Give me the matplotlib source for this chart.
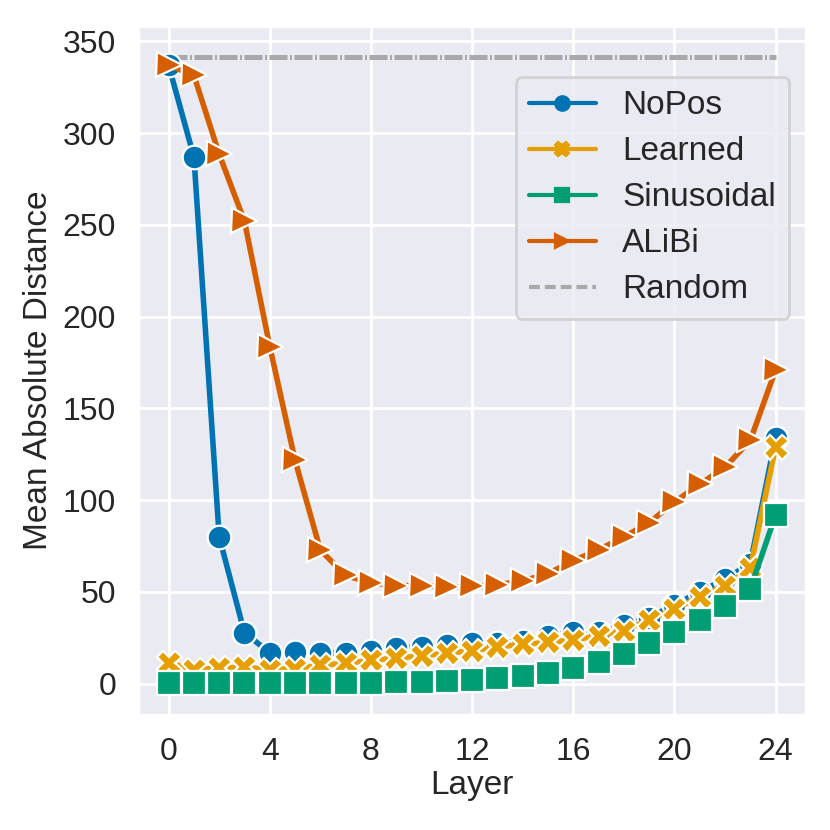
import matplotlib
matplotlib.use("Agg")
import matplotlib.pyplot as plt
import seaborn as sns
import numpy as np
from matplotlib.lines import Line2D

sns.set_theme(style="darkgrid", context="notebook")
plt.rcParams['font.family'] = ['Liberation Sans', 'DejaVu Sans']

layers = list(range(25))
nopos = [337, 287, 80, 27.7, 17, 17.5, 16.7, 16.7, 17.6, 19.4, 20.3, 21.2, 22, 22, 23.5, 26, 28.4, 28.4, 32, 36, 43, 50, 57, 65.5, 134]
learned = [11.4, 7.7, 8.6, 9.0, 7.7, 8.3, 10.0, 11.2, 12.7, 14, 15.2, 16.7, 18, 20, 21.5, 22.5, 24, 26, 29, 35, 40.6, 47.5, 53.5, 63, 129]
sinusoidal = [0.4, 0.4, 0.4, 0.4, 0.4, 0.4, 0.4, 0.5, 0.6, 0.8, 1.0, 1.3, 1.8, 3, 4.5, 6, 8.6, 11.6, 16.3, 22, 28, 35, 42.5, 51.6, 92]
alibi = [337, 331.5, 288.5, 252, 183.7, 121.7, 72.8, 59, 55, 53.5, 53.5, 52.7, 53, 54, 56, 60, 67, 73, 80, 87.7, 99, 108.7, 118, 132.6, 171]
random_val = 341.33

names = ["NoPos", "Learned", "Sinusoidal", "ALiBi"]
series = [nopos, learned, sinusoidal, alibi]
colors = ["#0173b2", "#e69f00", "#029e73", "#d55e00"]
markers = ["o", "X", "s", ">"]
msizes = [8.5, 9, 8.5, 9]

fig = plt.figure(figsize=(4.15, 4.15), dpi=200)
ax = fig.add_axes([0.1666, 0.1386, 0.971 - 0.1666, 0.9687 - 0.1386])

ax.plot(layers, [random_val] * len(layers), color="#a9a9a9", lw=1.8,
        linestyle=(0, (3.6, 0.5, 0.4, 0.5)), zorder=1)

for name, vals, c, m, ms in zip(names, series, colors, markers, msizes):
    ax.plot(layers, vals, color=c, marker=m, ms=ms, lw=2, mec="white", mew=0.8, zorder=2)

ax.set_xlim(-1.2, 25.2)
ax.set_ylim(-17, 358.4)
ax.set_xticks([0, 4, 8, 12, 16, 20, 24])
ax.set_yticks([0, 50, 100, 150, 200, 250, 300, 350])
ax.tick_params(labelsize=11.5, pad=2)
ax.set_xlabel("Layer", fontsize=12, labelpad=1)
ax.set_ylabel("Mean Absolute Distance", fontsize=12, labelpad=3)

handles = []
for name, c, m in zip(names, colors, markers):
    handles.append(Line2D([0], [0], color=c, marker=m, ms=5.2, lw=1.5, mec=c, mew=0.8, label=name))
handles.append(Line2D([0], [0], color="#a9a9a9", lw=1.5, linestyle=(0, (2.6, 1.2)), label="Random"))
leg = ax.legend(handles=handles, loc="upper right", bbox_to_anchor=(1.0, 0.95), fontsize=12,
                handlelength=2.0, labelspacing=0.45, frameon=True)

fig.savefig("out.png", dpi=200)
